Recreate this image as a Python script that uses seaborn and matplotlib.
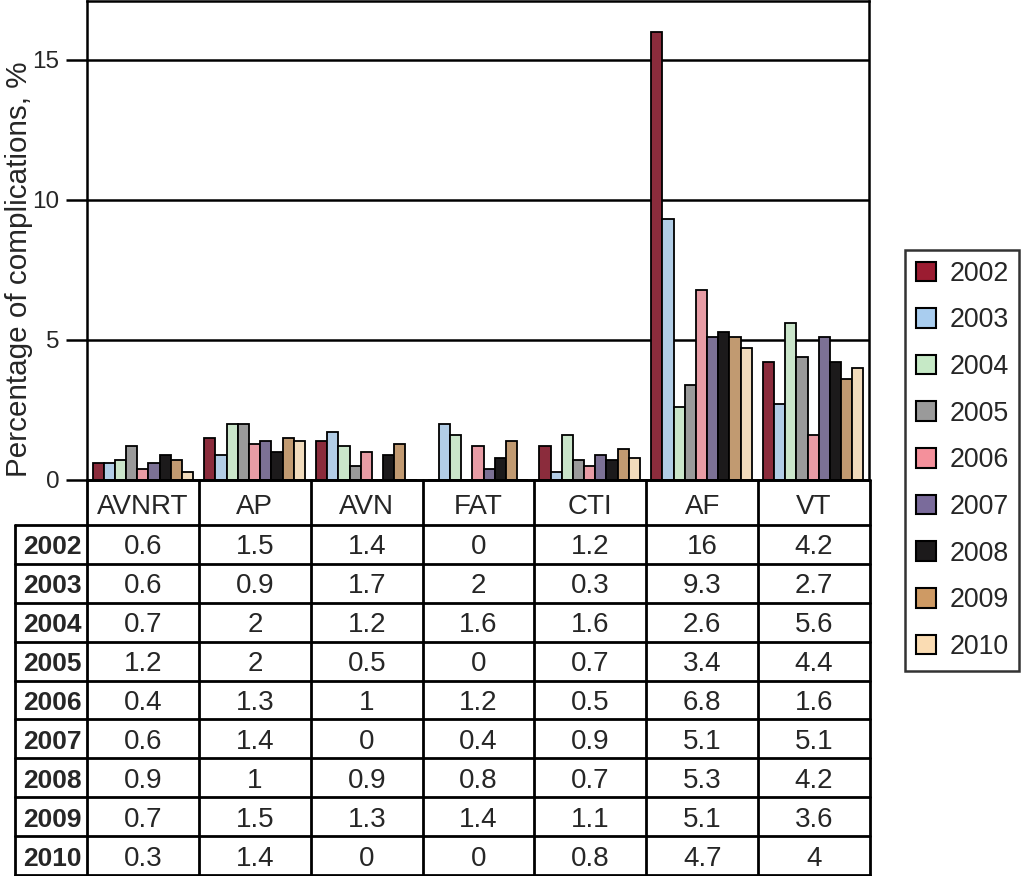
import matplotlib
matplotlib.use("Agg")
import matplotlib.pyplot as plt
import seaborn as sns
import pandas as pd
from matplotlib.patches import Patch

categories = ["AVNRT", "AP", "AVN", "FAT", "CTI", "AF", "VT"]
years = ["2002", "2003", "2004", "2005", "2006", "2007", "2008", "2009", "2010"]
v2002 = [0.6, 1.5, 1.4, 0, 1.2, 16, 4.2]
v2003 = [0.6, 0.9, 1.7, 2, 0.3, 9.3, 2.7]
v2004 = [0.7, 2, 1.2, 1.6, 1.6, 2.6, 5.6]
v2005 = [1.2, 2, 0.5, 0, 0.7, 3.4, 4.4]
v2006 = [0.4, 1.3, 1, 1.2, 0.5, 6.8, 1.6]
v2007 = [0.6, 1.4, 0, 0.4, 0.9, 5.1, 5.1]
v2008 = [0.9, 1, 0.9, 0.8, 0.7, 5.3, 4.2]
v2009 = [0.7, 1.5, 1.3, 1.4, 1.1, 5.1, 3.6]
v2010 = [0.3, 1.4, 0, 0, 0.8, 4.7, 4]
series = [v2002, v2003, v2004, v2005, v2006, v2007, v2008, v2009, v2010]
tick_labels = ["0", "5", "10", "15"]
ylabel = "Percentage of complications, %"

colors = ["#9B1C31", "#A9CDEF", "#C6E9C6", "#9A9A9A", "#F4909B",
          "#7A6B9B", "#1C1A1B", "#CE9A64", "#FADCB3"]

rows = []
for y, vals in zip(years, series):
    for c, v in zip(categories, vals):
        rows.append({"category": c, "year": y, "value": v})
df = pd.DataFrame(rows)

sns.set_style("white")
plt.rcParams["font.family"] = ["Liberation Sans", "DejaVu Sans"]

W, H = 1024, 876
fig = plt.figure(figsize=(W / 100, H / 100), dpi=100)

def px_axes(x0, y0, x1, y1):
    return fig.add_axes([x0 / W, 1 - y1 / H, (x1 - x0) / W, (y1 - y0) / H])

ax_left, ax_right, ax_top, ax_zero = 87, 869, 1, 480
ax = px_axes(ax_left, ax_top, ax_right, ax_zero)
sns.barplot(data=df, x="category", y="value", hue="year", order=categories,
            hue_order=years, palette=colors, width=0.9, edgecolor="black",
            linewidth=1.3, ax=ax, legend=False, zorder=3)
ax.set_xlim(-0.5, 6.5)
ax.set_ylim(0, 17.1)
ax.set_yticks([0, 5, 10, 15])
ax.set_yticklabels(tick_labels, fontsize=17.5)
ax.set_xticks([])
ax.set_xlabel("")
ax.set_ylabel(ylabel, fontsize=21.3)
ax.yaxis.set_label_coords(-0.069, 0.439)
for y in [5, 10, 15]:
    ax.axhline(y, color="black", lw=1.8, zorder=1)
for s in ax.spines.values():
    s.set_color("black")
    s.set_linewidth(1.8)
ax.tick_params(axis="y", direction="out", length=15, width=1.8, color="black", pad=5)
ax.yaxis.set_ticks_position("left")

# table
tbl_left = 15
ncat = len(categories)
catw = (ax_right - ax_left) / ncat
left_units = (ax_left - tbl_left) / catw
tax = px_axes(tbl_left, ax_zero, ax_right + 1, H - 1)
hdr_h = 45
row_h = (H - 1 - ax_zero - hdr_h) / len(years)
tot_h = hdr_h + row_h * len(years)
tax.set_xlim(-0.5 - left_units, 6.5)
tax.set_ylim(tot_h, 0)
tax.axis("off")
lw = 2.0
xl = -0.5 - left_units
tax.plot([-0.5, 6.5], [0, 0], color="black", lw=lw, clip_on=False)
for i in range(len(years) + 1):
    yy = hdr_h + i * row_h
    tax.plot([xl, 6.5], [yy, yy], color="black", lw=lw, clip_on=False)
tax.plot([xl, xl], [hdr_h, tot_h], color="black", lw=lw, clip_on=False)
for j in range(ncat + 1):
    xx = -0.5 + j
    tax.plot([xx, xx], [0, tot_h], color="black", lw=lw, clip_on=False)
for j, c in enumerate(categories):
    tax.text(j, hdr_h / 2 + 5, c, ha="center", va="center", fontsize=20)
for i, (y, vals) in enumerate(zip(years, series)):
    yc = hdr_h + (i + 0.5) * row_h + 3
    tax.text(xl + left_units / 2 + 0.01, yc, y, ha="center", va="center",
             fontsize=19, fontweight="bold")
    for j, v in enumerate(vals):
        tax.text(j, yc, f"{v:g}", ha="center", va="center", fontsize=20)

handles = [Patch(facecolor=c, edgecolor="black", linewidth=1.5, label=y)
           for c, y in zip(colors, years)]
leg = fig.legend(handles=handles, loc="upper left",
                 bbox_to_anchor=(905 / W, 1 - 250 / H), fontsize=19.3,
                 frameon=True, fancybox=False, edgecolor="black",
                 handlelength=0.75, handleheight=0.75, labelspacing=0.77,
                 handletextpad=0.5, borderpad=0.4, borderaxespad=0)
leg.get_frame().set_linewidth(1.8)

fig.savefig("out.png", dpi=100, facecolor="white")
